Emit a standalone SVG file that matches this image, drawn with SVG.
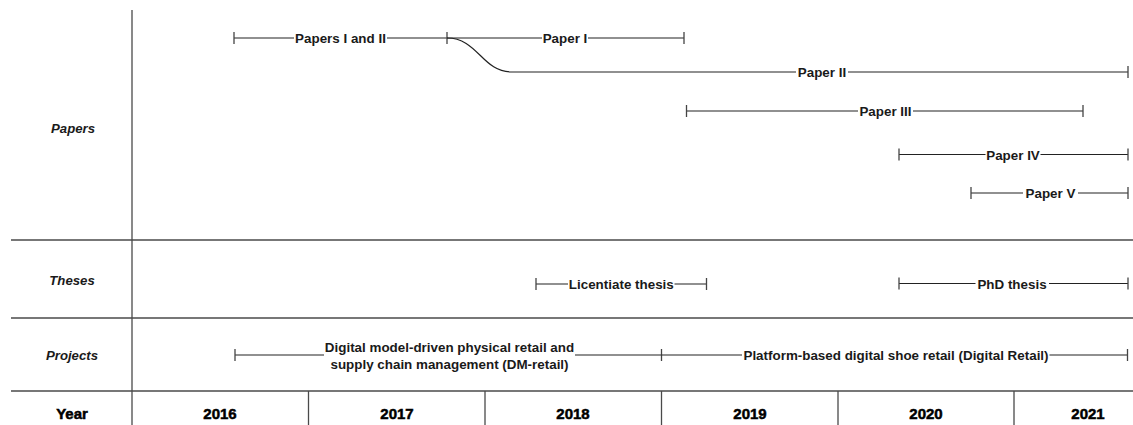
<svg xmlns="http://www.w3.org/2000/svg" width="1133" height="425" viewBox="0 0 1133 425">
<style>
.grid{stroke:#4a4a4a;stroke-width:1.3;fill:none}
.bar{stroke:#222;stroke-width:1.2;fill:none}
.tick{stroke:#444;stroke-width:1.3}
.lbl{font-family:"Liberation Sans",Arial,sans-serif;font-size:13.4px;font-weight:bold;fill:#1a1a1a;text-anchor:middle}
.row{font-family:"Liberation Sans",Arial,sans-serif;font-size:13.2px;font-style:italic;font-weight:bold;fill:#1a1a1a;text-anchor:middle}
.yr{font-family:"Liberation Sans",Arial,sans-serif;font-size:15px;font-weight:bold;fill:#000;stroke:#000;stroke-width:0.5;text-anchor:middle}
</style>
<rect width="1133" height="425" fill="#fff"/>
<g id="table">
  <line class="grid" x1="132" y1="10" x2="132" y2="425"/>
  <line class="grid" x1="11" y1="240" x2="1133" y2="240"/>
  <line class="grid" x1="11" y1="318" x2="1133" y2="318"/>
  <line class="grid" x1="11" y1="391" x2="1133" y2="391"/>
  <line class="grid" x1="308.5" y1="391" x2="308.5" y2="425"/>
  <line class="grid" x1="485" y1="391" x2="485" y2="425"/>
  <line class="grid" x1="661.5" y1="391" x2="661.5" y2="425"/>
  <line class="grid" x1="838" y1="391" x2="838" y2="425"/>
  <line class="grid" x1="1014" y1="391" x2="1014" y2="425"/>
</g>
<g id="row-labels">
  <text class="row" x="73" y="133">Papers</text>
  <text class="row" x="72" y="285">Theses</text>
  <text class="row" x="72" y="360">Projects</text>
  <text class="yr" x="72" y="418.5">Year</text>
</g>
<g id="years">
  <text class="yr" x="220" y="418.5">2016</text>
  <text class="yr" x="397" y="418.5">2017</text>
  <text class="yr" x="573" y="418.5">2018</text>
  <text class="yr" x="750" y="418.5">2019</text>
  <text class="yr" x="926" y="418.5">2020</text>
  <text class="yr" x="1088" y="418.5">2021</text>
</g>
<g id="connectors">
  <path class="bar" d="M234,38 H294 M387,38 H447"/>
  <line class="tick" x1="234" y1="32" x2="234" y2="44"/>
  <line class="tick" x1="447" y1="32" x2="447" y2="44"/>
  <path class="bar" d="M447,38 H542 M588,38 H684"/>
  <line class="tick" x1="684" y1="32" x2="684" y2="44"/>
  <path class="bar" d="M447,38 C478,38 482,72 512,72 H796 M848,72 H1128"/>
  <line class="tick" x1="1128" y1="66" x2="1128" y2="78"/>
  <path class="bar" d="M686.5,111 H858 M913,111 H1083"/>
  <line class="tick" x1="686.5" y1="105" x2="686.5" y2="117"/>
  <line class="tick" x1="1083" y1="105" x2="1083" y2="117"/>
  <path class="bar" d="M899,154.5 H985.5 M1040.5,154.5 H1128"/>
  <line class="tick" x1="899" y1="148.5" x2="899" y2="160.5"/>
  <line class="tick" x1="1128" y1="148.5" x2="1128" y2="160.5"/>
  <path class="bar" d="M971,193 H1023 M1078,193 H1128"/>
  <line class="tick" x1="971" y1="187" x2="971" y2="199"/>
  <line class="tick" x1="1128" y1="187" x2="1128" y2="199"/>
  <path class="bar" d="M536,284 H568 M674.5,284 H706.5"/>
  <line class="tick" x1="536" y1="278" x2="536" y2="290"/>
  <line class="tick" x1="706.5" y1="278" x2="706.5" y2="290"/>
  <path class="bar" d="M899,283.5 H975.5 M1049,283.5 H1128"/>
  <line class="tick" x1="899" y1="277.5" x2="899" y2="289.5"/>
  <line class="tick" x1="1128" y1="277.5" x2="1128" y2="289.5"/>
  <path class="bar" d="M235,355 H324 M575,355 H661.5"/>
  <line class="tick" x1="235" y1="349" x2="235" y2="361"/>
  <line class="tick" x1="661.5" y1="349" x2="661.5" y2="361"/>
  <path class="bar" d="M661.5,355 H742 M1049.5,355 H1127.5"/>
  <line class="tick" x1="1127.5" y1="349" x2="1127.5" y2="361"/>
</g>
<g id="node-papers-i-ii"><text class="lbl" x="340.5" y="43">Papers I and II</text></g>
<g id="node-paper-i"><text class="lbl" x="565" y="43">Paper I</text></g>
<g id="node-paper-ii"><text class="lbl" x="822" y="77">Paper II</text></g>
<g id="node-paper-iii"><text class="lbl" x="885.5" y="116">Paper III</text></g>
<g id="node-paper-iv"><text class="lbl" x="1013" y="159.5">Paper IV</text></g>
<g id="node-paper-v"><text class="lbl" x="1050.5" y="198">Paper V</text></g>
<g id="node-licentiate"><text class="lbl" x="621.3" y="289">Licentiate thesis</text></g>
<g id="node-phd"><text class="lbl" x="1012" y="288.5">PhD thesis</text></g>
<g id="node-dm-retail">
  <text class="lbl" x="449.5" y="352">Digital model-driven physical retail and</text>
  <text class="lbl" x="449.5" y="369">supply chain management (DM-retail)</text>
</g>
<g id="node-digital-retail"><text class="lbl" x="896" y="360">Platform-based digital shoe retail (Digital Retail)</text></g>
</svg>
